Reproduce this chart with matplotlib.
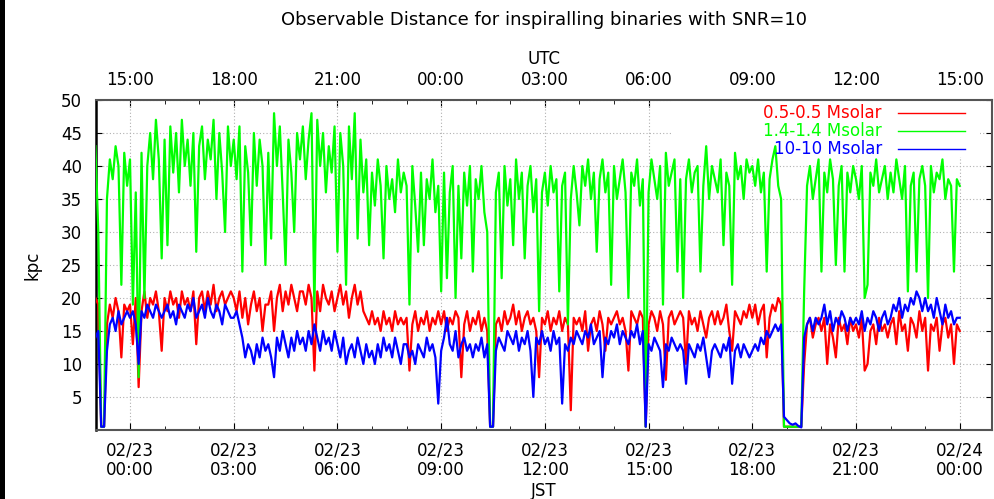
import matplotlib
matplotlib.use('Agg')
import matplotlib.pyplot as plt
import matplotlib.dates as mdates
from matplotlib.ticker import FuncFormatter
from matplotlib.patches import Rectangle
import pandas as pd
import datetime as dt

# 5 minute samples, JST, from 02/22 23:00 to 02/24 00:00
times = pd.date_range('2011-02-22 23:00', periods=301, freq='5min')

labels = ['0.5-0.5 Msolar', '1.4-1.4 Msolar', '10-10 Msolar']
colors = ['#ff0000', '#00ff00', '#0000ff']

red = [
    20, 19, 0.5, 0.5, 16, 19, 17, 20, 18, 11, 19, 18,
    19, 13, 20, 6.5, 18, 21, 17, 20, 19, 21, 18, 12,
    20, 18, 21, 19, 20, 17, 21, 19, 20, 18, 21, 13,
    20, 21, 18, 21, 19, 22, 18, 20, 21, 19, 20, 21,
    20, 18, 21, 17, 20, 16, 19, 21, 18, 20, 15, 19,
    19, 21, 15, 20, 22, 18, 21, 19, 22, 20, 18, 21,
    21, 19, 22, 20, 9, 21, 18, 22, 20, 19, 21, 18,
    20, 22, 19, 21, 17, 20, 22, 19, 21, 18, 17, 16,
    18, 16, 17, 15, 18, 16, 17, 15, 18, 16, 17, 16,
    17, 9, 16, 18, 15, 17, 16, 18, 15, 17, 16, 18,
    16, 18, 15, 17, 16, 18, 17, 8, 16, 18, 15, 17,
    16, 18, 15, 17, 15, 0.5, 0.5, 16, 17, 15, 18, 16,
    17, 19, 16, 18, 15, 17, 18, 16, 17, 15, 8, 17,
    16, 18, 15, 17, 16, 18, 15, 17, 16, 3, 17, 16,
    17, 15, 18, 12, 16, 17, 15, 18, 16, 12, 17, 16,
    17, 18, 16, 17, 15, 9, 18, 17, 16, 18, 17, 0.5,
    16, 18, 17, 15, 18, 16, 7.6, 17, 18, 16, 17, 18,
    17, 10, 18, 16, 17, 15, 18, 16, 14, 17, 18, 16,
    18, 16, 17, 19, 15, 12, 18, 17, 16, 18, 17, 19,
    17, 19, 16, 18, 19, 11, 17, 19, 18, 20, 19, 0.5,
    0.5, 0.5, 0.5, 0.5, 0.5, 0.5, 10, 16, 17, 14, 16, 17,
    15, 17, 10, 16, 14, 11, 17, 15, 16, 13, 17, 15,
    16, 14, 17, 9, 10, 15, 16, 13, 17, 15, 16, 14,
    16, 17, 13, 18, 15, 16, 12, 17, 16, 14, 18, 15,
    17, 9, 16, 15, 17, 12, 16, 17, 14, 16, 10, 16,
    15]

green = [
    43, 30, 0.5, 0.5, 35, 41, 38, 43, 40, 22, 42, 37,
    41, 19, 36, 8, 42, 20, 40, 45, 38, 47, 41, 26,
    44, 28, 46, 39, 45, 36, 47, 40, 44, 37, 45, 27,
    43, 46, 38, 44, 41, 47, 35, 45, 39, 30, 46, 40,
    44, 38, 46, 24, 43, 39, 28, 45, 37, 44, 40, 25,
    42, 29, 48, 40, 46, 36, 25, 44, 39, 30, 45, 41,
    46, 38, 44, 48, 18, 47, 40, 45, 36, 43, 39, 46,
    27, 45, 40, 22, 46, 38, 48, 29, 44, 36, 41, 28,
    39, 34, 41, 37, 26, 40, 35, 38, 33, 41, 36, 39,
    37, 19, 40, 34, 27, 39, 28, 38, 35, 41, 33, 37,
    21, 39, 23, 36, 40, 20, 37, 26, 39, 34, 40, 24,
    38, 35, 40, 33, 30, 0.5, 0.5, 36, 39, 23, 40, 34,
    38, 28, 41, 35, 39, 26, 37, 40, 33, 38, 18, 36,
    39, 34, 40, 36, 38, 21, 37, 39, 16, 35, 40, 36,
    31, 40, 37, 41, 35, 39, 27, 38, 41, 36, 39, 22,
    40, 35, 38, 41, 36, 20, 39, 37, 41, 34, 38, 0.5,
    36, 41, 38, 35, 40, 19, 42, 37, 39, 41, 24, 38,
    20, 38, 41, 36, 39, 40, 24, 37, 43, 35, 40, 38,
    36, 41, 28, 39, 37, 22, 42, 38, 40, 35, 41, 39,
    40, 37, 41, 36, 39, 24, 38, 41, 43, 37, 35, 0.5,
    0.5, 0.5, 0.5, 0.5, 0.5, 0.5, 21, 37, 40, 35, 38, 41,
    24, 39, 36, 41, 38, 25, 37, 40, 24, 39, 36, 40,
    38, 35, 40, 20, 22, 39, 37, 41, 36, 38, 40, 35,
    39, 36, 41, 38, 35, 40, 21, 37, 39, 24, 38, 40,
    37, 20, 40, 36, 39, 38, 41, 35, 38, 37, 24, 38,
    37]

blue = [
    14, 15, 0.5, 0.5, 12, 16, 17, 15, 18, 16, 17, 18,
    17, 18, 16, 10, 18, 17, 19, 18, 17, 19, 18, 17,
    18, 19, 17, 18, 16, 19, 18, 17, 19, 18, 20, 17,
    18, 19, 17, 20, 18, 17, 19, 18, 16, 19, 18, 17,
    17, 18, 16, 14, 11, 13, 12, 10, 13, 11, 14, 12,
    13, 11, 8, 14, 12, 15, 13, 11, 14, 12, 15, 13,
    14, 12, 15, 13, 16, 14, 12, 15, 13, 14, 12, 15,
    13, 11, 14, 10, 12, 13, 11, 14, 12, 10, 13, 11,
    12, 10, 13, 11, 14, 12, 13, 11, 14, 12, 10, 13,
    13, 11, 12, 10, 13, 12, 11, 14, 12, 13, 11, 4,
    12, 14, 17, 13, 12, 15, 11, 13, 14, 12, 13, 11,
    13, 12, 14, 11, 13, 0.5, 0.5, 12, 14, 13, 12, 15,
    14, 13, 15, 12, 14, 13, 15, 12, 5, 14, 13, 15,
    13, 14, 12, 15, 13, 14, 4, 13, 12, 14, 13, 15,
    14, 13, 15, 14, 16, 13, 14, 15, 8, 14, 13, 15,
    14, 16, 13, 15, 14, 13, 15, 14, 16, 13, 15, 0.5,
    13, 12, 14, 13, 12, 6.5, 13, 12, 14, 13, 12, 13,
    12, 7, 13, 12, 11, 13, 12, 14, 11, 8, 12, 13,
    12, 11, 13, 12, 14, 7, 12, 13, 11, 13, 12, 11,
    12, 13, 12, 14, 13, 15, 14, 15, 16, 15, 16, 2,
    1.5, 1, 0.8, 1, 0.6, 0.4, 14, 16, 17, 15, 17, 16,
    17, 19, 16, 18, 15, 17, 16, 18, 17, 15, 17, 16,
    17, 16, 18, 15, 17, 16, 18, 17, 15, 17, 18, 16,
    17, 19, 18, 20, 17, 19, 18, 20, 19, 21, 20, 18,
    20, 18, 19, 17, 20, 18, 16, 19, 17, 18, 16, 17,
    17]

plt.rcParams['font.family'] = ['DejaVu Sans']
fs = 12

fig = plt.figure(figsize=(9.94, 4.99), dpi=100)
ax = fig.add_axes([96/994, 1-430/499, 896/994, 330/499])

for s, c in zip([red, green, blue], colors):
    ax.plot(times, s, color=c, lw=1.6, zorder=3)

ax.set_ylim(0, 50)
ax.set_xlim(dt.datetime(2011, 2, 22, 23, 1), dt.datetime(2011, 2, 24, 0, 56))
ax.set_yticks(range(5, 51, 5))
ax.tick_params(axis='y', which='both', direction='in', right=True, length=4,
               labelsize=fs, pad=10)

ax.xaxis.set_major_locator(mdates.HourLocator(byhour=range(0, 24, 3)))
ax.xaxis.set_minor_locator(mdates.HourLocator())
ax.xaxis.set_major_formatter(mdates.DateFormatter('%m/%d\n%H:%M'))
ax.tick_params(axis='x', which='major', direction='in', length=5, labelsize=fs, pad=8)
ax.tick_params(axis='x', which='minor', direction='in', length=3)
for t in ax.get_xticklabels():
    t.set_linespacing(1.1)

ax.grid(True, which='major', color='#b0b0b0', linestyle=(0, (1, 2)), lw=0.8)

top = ax.secondary_xaxis('top')
top.xaxis.set_major_locator(mdates.HourLocator(byhour=range(0, 24, 3)))
top.xaxis.set_minor_locator(mdates.HourLocator())
top.xaxis.set_major_formatter(FuncFormatter(
    lambda v, pos: (mdates.num2date(v) - dt.timedelta(hours=9)).strftime('%H:%M')))
top.tick_params(axis='x', which='major', direction='in', length=5, labelsize=fs, pad=8)
top.tick_params(axis='x', which='minor', direction='in', length=3)
top.set_xlabel('UTC', fontsize=fs, labelpad=5)

for sp in ['top', 'right', 'bottom']:
    ax.spines[sp].set_color('#555555')
    ax.spines[sp].set_linewidth(1.5)
ax.spines['left'].set_color('black')
ax.spines['left'].set_linewidth(1.8)
top.spines['top'].set_visible(False)

fig.text(544/994, 1-491/499, 'JST', fontsize=fs, ha='center', va='center')
ax.set_ylabel('kpc', fontsize=fs, labelpad=14)
fig.suptitle('Observable Distance for inspiralling binaries with SNR=10',
             x=544/994, y=1-20/499, va='center', fontsize=fs + 1)

# gnuplot style key: white box, right aligned text, sample line to the right
ax.add_patch(Rectangle((0.644, 0.827), 0.343, 0.173, transform=ax.transAxes,
                       facecolor='white', edgecolor='none', zorder=2))
for k, (lab, c) in enumerate(zip(labels, colors)):
    yk = 0.961 - k * 0.0545
    ax.text(0.877, yk, lab, color=c, fontsize=fs, ha='right', va='center',
            transform=ax.transAxes, zorder=4)
    ax.plot([0.895, 0.970], [yk, yk], color=c, lw=1.0, transform=ax.transAxes, zorder=4)

fig.patches.append(Rectangle((0, 0), 5/994, 1, transform=fig.transFigure,
                             facecolor='black', edgecolor='none'))

fig.savefig('out.png', dpi=100)
